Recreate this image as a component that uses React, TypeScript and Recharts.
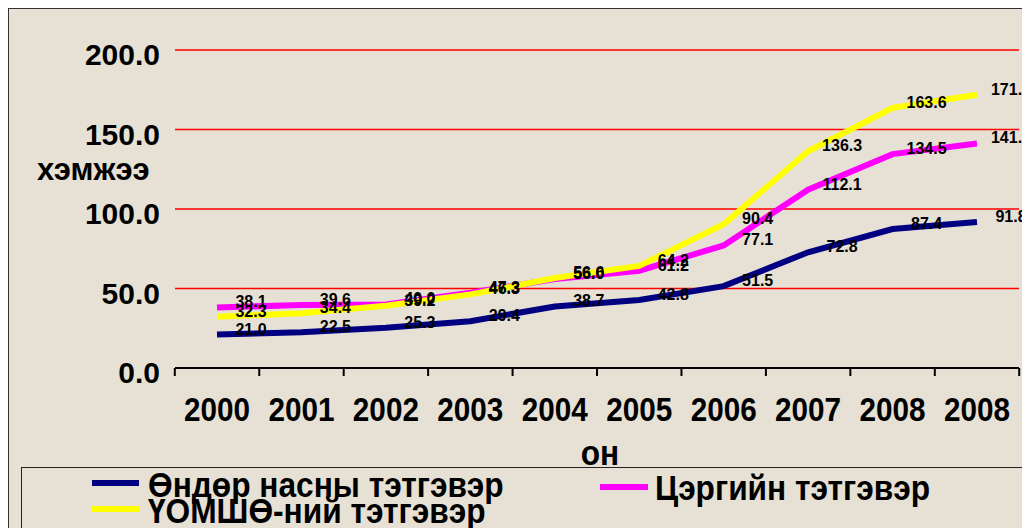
import { LineChart, Line, XAxis, YAxis, CartesianGrid, LabelList } from 'recharts';

// pension amounts by year (values as printed on the chart)
const years = ['2000', '2001', '2002', '2003', '2004', '2005', '2006', '2007', '2008', '2008'];
const oldAgePension = [21.0, 22.5, 25.3, 29.4, 38.7, 42.8, 51.5, 72.8, 87.4, 91.8];
const militaryPension = [38.1, 39.6, 40.0, 47.3, 56.0, 61.2, 77.1, 112.1, 134.5, 141.2];
const disabilityPension = [32.3, 34.4, 39.2, 46.3, 56.6, 64.2, 90.4, 136.3, 163.6, 171.8];
const yTicks = [0, 50, 100, 150, 200];

const seriesNames = ['Өндөр насны тэтгэвэр', 'Цэргийн тэтгэвэр', 'ҮОМШӨ-ний тэтгэвэр'];
const seriesColors = ['#000080', '#FF00FF', '#FFFF00'];

const data = years.map((year, i) => ({
  year,
  oldAge: oldAgePension[i],
  military: militaryPension[i],
  disability: disabilityPension[i],
}));

const SANS = "'Liberation Sans', Arial, sans-serif";
const BAND_HALF = 42.2;

// condensed bold text: no narrow font installed, so squeeze the bold sans
const NarrowText = ({ x, y, anchor = 'start', size = 36, squeeze = 0.88, children }: any) => (
  <text
    transform={`translate(${x},${y}) scale(${squeeze},1)`}
    textAnchor={anchor}
    fontSize={size}
    fontWeight="bold"
    fontFamily={SANS}
    fill="#000"
  >
    {children}
  </text>
);

const renderValue = (props: any) => {
  const { x, y, value } = props;
  return (
    <text x={x + 34} y={y} textAnchor="middle" fontSize={16} fontWeight="bold" fontFamily={SANS} fill="#000">
      {Number(value).toFixed(1)}
    </text>
  );
};

const YearTick = (props: any) => {
  const { x, y, payload, index } = props;
  return (
    <g>
      <line x1={x - BAND_HALF} x2={x - BAND_HALF} y1={y} y2={y + 8} stroke="#000" strokeWidth={2} />
      {index === years.length - 1 && (
        <line x1={x + BAND_HALF} x2={x + BAND_HALF} y1={y} y2={y + 8} stroke="#000" strokeWidth={2} />
      )}
      <NarrowText x={x} y={y + 53} anchor="middle" size={33} squeeze={0.9}>
        {payload.value}
      </NarrowText>
    </g>
  );
};

const ValueTick = (props: any) => {
  const { x, y, payload } = props;
  return (
    <text x={x} y={y + 15} textAnchor="end" fontSize={30} fontWeight="bold" fontFamily={SANS} fill="#000">
      {Number(payload.value).toFixed(1)}
    </text>
  );
};

function LegendBox() {
  const rows = [
    { line: [83, 130, 474], text: [139, 488] },
    { line: [591, 639, 478], text: [646, 491] },
    { line: [83, 130, 500], text: [139, 514] },
  ];
  return (
    <svg width={1021} height={519} style={{ position: 'absolute', left: 0, top: 0, pointerEvents: 'none' }}>
      <rect x={12.5} y={458.5} width={1100} height={100} fill="none" stroke="#222" strokeWidth={1} />
      {rows.map((r, i) => (
        <g key={i}>
          <line x1={r.line[0]} x2={r.line[1]} y1={r.line[2]} y2={r.line[2]} stroke={seriesColors[i]} strokeWidth={6} />
          <NarrowText x={r.text[0]} y={r.text[1]}>
            {seriesNames[i]}
          </NarrowText>
        </g>
      ))}
    </svg>
  );
}

export default function App() {
  return (
    <div
      style={{
        position: 'relative',
        width: 1022,
        height: 520,
        boxSizing: 'border-box',
        borderLeft: '1px solid #333',
        borderTop: '1px solid #333',
        background: '#E6E0D5',
        overflow: 'hidden',
      }}
    >
      <LineChart width={1021} height={519} data={data} margin={{ top: 41, right: 11, bottom: 60, left: 0 }}>
        <CartesianGrid horizontal vertical={false} stroke="#FF0000" strokeWidth={1.5} />
        <XAxis
          dataKey="year"
          padding={{ left: 42, right: 42 }}
          interval={0}
          height={100}
          tickLine={false}
          tickSize={0}
          tickMargin={0}
          axisLine={{ stroke: '#000', strokeWidth: 2 }}
          tick={YearTick}
          label={{
            content: (p: any) => (
              <NarrowText x={p.viewBox.x + p.viewBox.width / 2 + 3} y={p.viewBox.y + 97} anchor="middle">
                он
              </NarrowText>
            ),
          }}
        />
        <YAxis
          width={166}
          domain={[0, 200]}
          ticks={yTicks}
          axisLine={false}
          tickLine={false}
          tickSize={0}
          tickMargin={15}
          tick={ValueTick}
          label={{
            content: (p: any) => (
              <text x={p.viewBox.x + 28} y={p.viewBox.y + 130} fontSize={31} fontWeight="bold" fontFamily={SANS} fill="#000">
                хэмжээ
              </text>
            ),
          }}
        />
        <Line dataKey="oldAge" stroke={seriesColors[0]} strokeWidth={6} dot={false} isAnimationActive={false}>
          <LabelList dataKey="oldAge" content={renderValue} />
        </Line>
        <Line dataKey="military" stroke={seriesColors[1]} strokeWidth={6} dot={false} isAnimationActive={false}>
          <LabelList dataKey="military" content={renderValue} />
        </Line>
        <Line dataKey="disability" stroke={seriesColors[2]} strokeWidth={6} dot={false} isAnimationActive={false}>
          <LabelList dataKey="disability" content={renderValue} />
        </Line>
      </LineChart>
      <LegendBox />
    </div>
  );
}
